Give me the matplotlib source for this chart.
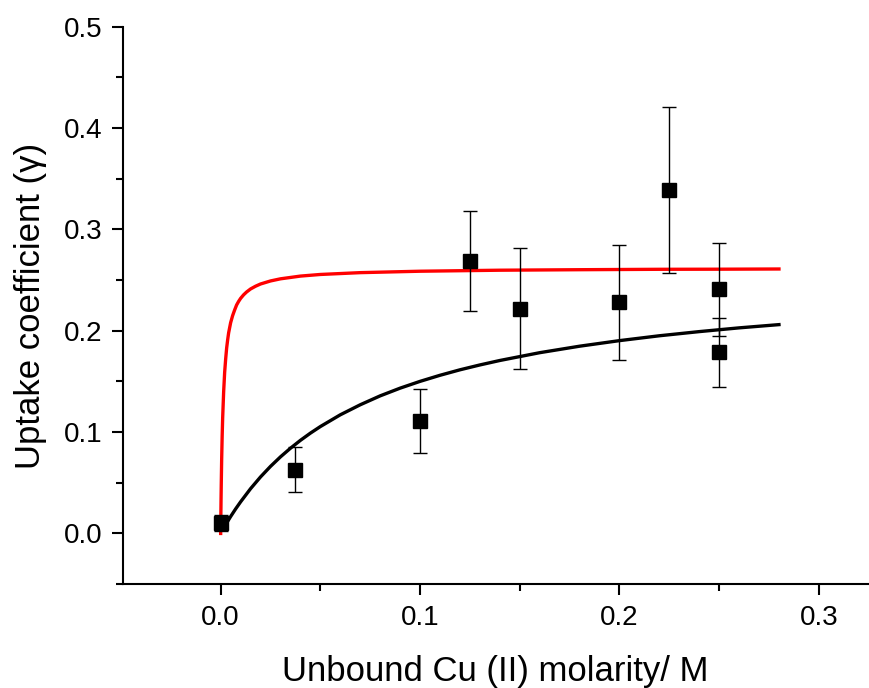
import matplotlib
matplotlib.use("Agg")
import matplotlib.pyplot as plt
from matplotlib.ticker import MultipleLocator

plt.rcParams['font.family'] = ['Liberation Sans', 'DejaVu Sans']

# measured points
x_pts = [0.0, 0.0375, 0.1, 0.125, 0.15, 0.2, 0.225, 0.25, 0.25]
y_pts = [0.010, 0.063, 0.111, 0.269, 0.222, 0.228, 0.339, 0.241, 0.179]
y_err = [0.008, 0.022, 0.032, 0.049, 0.060, 0.057, 0.082, 0.046, 0.034]

# red fit curve
red_x = [0.0, 0.0001, 0.0002, 0.0003, 0.0005, 0.00075, 0.001, 0.0015, 0.002, 0.0025,
         0.003, 0.0035, 0.004, 0.005, 0.006, 0.007, 0.008, 0.009, 0.01, 0.0115,
         0.013, 0.015, 0.0175, 0.02, 0.025, 0.03, 0.04, 0.05, 0.07,
         0.1, 0.14, 0.18, 0.22, 0.25, 0.28]
red_y = [0.0, 0.0187, 0.035, 0.049, 0.073, 0.096, 0.114, 0.140, 0.159, 0.172,
         0.183, 0.191, 0.198, 0.208, 0.215, 0.2205, 0.2255, 0.229, 0.232, 0.2355,
         0.2383, 0.2413, 0.2440, 0.2462, 0.2492, 0.2513, 0.254, 0.2556, 0.2574,
         0.2588, 0.2598, 0.2603, 0.2607, 0.2608, 0.2610]

# black fit curve
blk_x = [0.0, 0.0025, 0.005, 0.0075, 0.01, 0.015, 0.02, 0.025, 0.03, 0.035,
         0.04, 0.045, 0.05, 0.06, 0.07, 0.08, 0.09, 0.1, 0.11,
         0.12, 0.13, 0.14, 0.16, 0.18, 0.2, 0.22, 0.24, 0.26, 0.28]
blk_y = [0.003, 0.0087, 0.0167, 0.0242, 0.0312, 0.0442, 0.0558, 0.0662, 0.0756, 0.0841,
         0.0919, 0.0990, 0.1055, 0.1171, 0.1270, 0.1358, 0.1434, 0.1501, 0.1561,
         0.1615, 0.1663, 0.1707, 0.1784, 0.1848, 0.1903, 0.1951, 0.1992, 0.2029, 0.2061]

fig = plt.figure(figsize=(8.69, 6.88), dpi=100)
ax = fig.add_axes([0.1415, 0.151, 0.857, 0.81])

ax.plot(blk_x, blk_y, color='black', lw=2.4, zorder=2)
ax.plot(red_x, red_y, color='red', lw=2.4, zorder=2)
ax.errorbar(x_pts, y_pts, yerr=y_err, fmt='s', color='black', ms=10.5,
            ecolor='black', elinewidth=1, capsize=5, capthick=1, zorder=3)

ax.set_xlim(-0.049, 0.3245)
ax.set_ylim(-0.05, 0.5)
ax.xaxis.set_major_locator(MultipleLocator(0.1))
ax.xaxis.set_minor_locator(MultipleLocator(0.05))
ax.yaxis.set_major_locator(MultipleLocator(0.1))
ax.yaxis.set_minor_locator(MultipleLocator(0.05))
ax.xaxis.set_major_formatter(plt.FormatStrFormatter('%.1f'))
ax.yaxis.set_major_formatter(plt.FormatStrFormatter('%.1f'))

ax.spines['top'].set_visible(False)
ax.spines['right'].set_visible(False)
ax.spines['left'].set_linewidth(1.5)
ax.spines['bottom'].set_linewidth(1.5)
ax.tick_params(which='major', direction='out', length=8, width=1.5, labelsize=20, pad=7)
ax.tick_params(which='minor', direction='out', length=5, width=1.5)

ax.set_xlabel('Unbound Cu (II) molarity/ M', fontsize=25, labelpad=17)
ax.set_ylabel('Uptake coefficient (γ)', fontsize=25, labelpad=12)

fig.savefig('out.png', dpi=100)
